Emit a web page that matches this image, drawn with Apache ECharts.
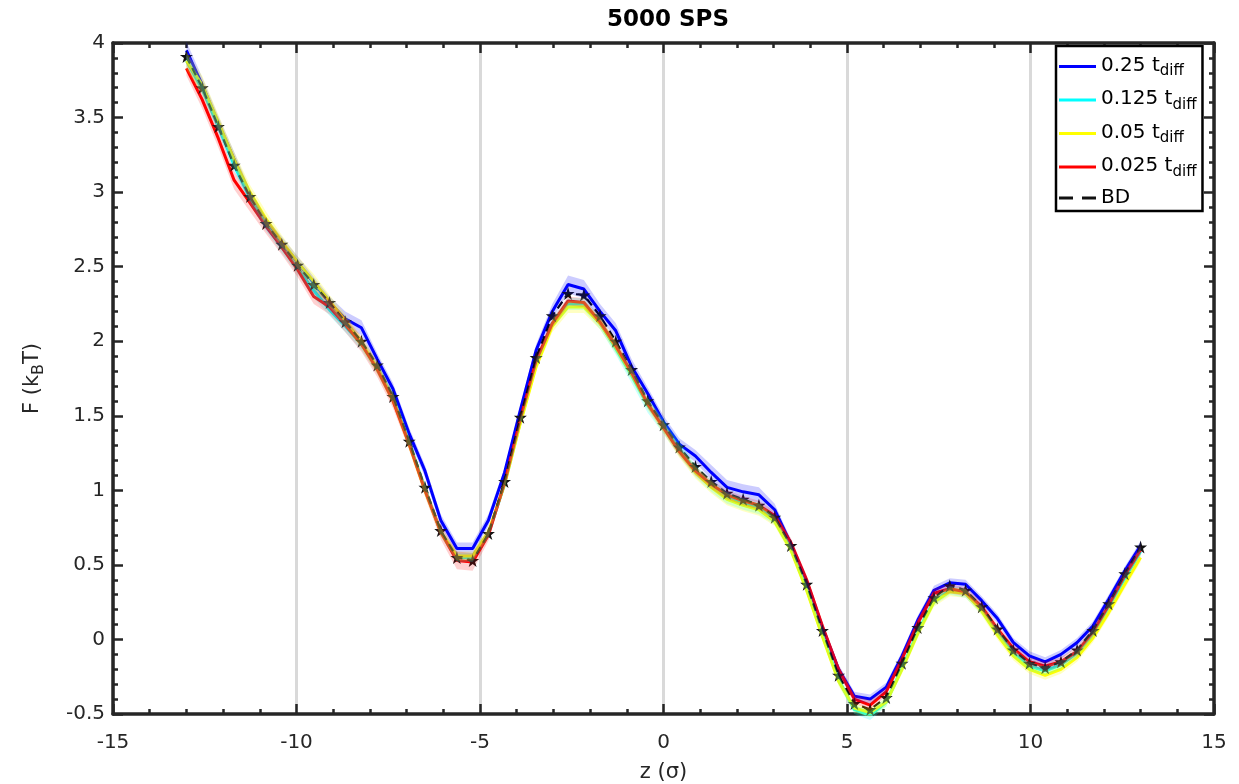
<!DOCTYPE html>
<html>
<head>
<meta charset="utf-8">
<script src="https://cdn.jsdelivr.net/npm/echarts@6/dist/echarts.min.js"></script>
<style>
  html, body { margin: 0; padding: 0; background: #fff; }
  #chart { width: 1239px; height: 784px; }
</style>
</head>
<body>
<div id="chart"></div>
<script>
// Reaction coordinate z (units of sigma)
const zValues = [-13.00,-12.57,-12.13,-11.70,-11.27,-10.83,-10.40,-9.97,-9.53,-9.10,
  -8.67,-8.23,-7.80,-7.37,-6.93,-6.50,-6.07,-5.63,-5.20,-4.77,
  -4.33,-3.90,-3.47,-3.03,-2.60,-2.17,-1.73,-1.30,-0.87,-0.43,
  0.00,0.43,0.87,1.30,1.73,2.17,2.60,3.03,3.47,3.90,
  4.33,4.77,5.20,5.63,6.07,6.50,6.93,7.37,7.80,8.23,
  8.67,9.10,9.53,9.97,10.40,10.83,11.27,11.70,12.13,12.57,13.00];

// Free energy profiles F (kBT) for each time step
const f025 = [3.95,3.72,3.46,3.22,2.98,2.79,2.66,2.53,2.39,2.26,
  2.15,2.09,1.88,1.68,1.38,1.13,0.80,0.61,0.61,0.80,
  1.12,1.54,1.94,2.20,2.38,2.35,2.20,2.07,1.83,1.65,
  1.46,1.31,1.23,1.12,1.02,0.99,0.97,0.87,0.64,0.39,
  0.08,-0.20,-0.38,-0.40,-0.32,-0.11,0.13,0.33,0.38,0.37,
  0.26,0.14,-0.02,-0.11,-0.15,-0.10,-0.02,0.09,0.27,0.46,0.63];

const f0125 = [3.88,3.69,3.44,3.18,2.96,2.78,2.63,2.49,2.34,2.21,
  2.10,1.98,1.82,1.62,1.32,1.01,0.72,0.55,0.55,0.71,
  1.04,1.46,1.85,2.12,2.25,2.25,2.12,1.95,1.77,1.57,
  1.43,1.28,1.13,1.03,0.95,0.91,0.88,0.80,0.61,0.34,
  0.03,-0.27,-0.47,-0.51,-0.42,-0.19,0.05,0.26,0.33,0.31,
  0.20,0.05,-0.09,-0.18,-0.21,-0.17,-0.09,0.04,0.22,0.41,0.59];

const f005 = [3.88,3.72,3.47,3.22,3.00,2.82,2.67,2.53,2.40,2.27,
  2.14,1.99,1.82,1.61,1.31,1.00,0.72,0.56,0.56,0.72,
  1.04,1.45,1.83,2.10,2.23,2.23,2.12,1.96,1.78,1.58,
  1.42,1.26,1.12,1.02,0.94,0.90,0.87,0.79,0.60,0.33,
  0.02,-0.28,-0.46,-0.49,-0.42,-0.20,0.04,0.25,0.32,0.31,
  0.19,0.03,-0.11,-0.20,-0.24,-0.20,-0.12,0.01,0.18,0.37,0.55];

const f0025 = [3.83,3.62,3.36,3.08,2.93,2.77,2.63,2.48,2.30,2.23,
  2.11,1.98,1.81,1.60,1.31,1.00,0.72,0.53,0.52,0.70,
  1.05,1.48,1.87,2.12,2.27,2.26,2.13,1.97,1.79,1.58,
  1.42,1.26,1.13,1.04,0.97,0.93,0.90,0.83,0.65,0.40,
  0.09,-0.20,-0.40,-0.44,-0.35,-0.13,0.11,0.31,0.34,0.32,
  0.22,0.07,-0.06,-0.15,-0.18,-0.15,-0.08,0.05,0.23,0.43,0.60];

const fBD = [3.91,3.70,3.44,3.18,2.97,2.79,2.65,2.51,2.38,2.26,
  2.13,2.00,1.84,1.63,1.33,1.02,0.73,0.55,0.53,0.71,
  1.06,1.49,1.89,2.17,2.32,2.31,2.17,2.00,1.81,1.60,
  1.44,1.29,1.16,1.06,0.98,0.94,0.90,0.82,0.63,0.37,
  0.06,-0.24,-0.43,-0.47,-0.39,-0.16,0.08,0.28,0.36,0.33,
  0.22,0.07,-0.07,-0.16,-0.19,-0.15,-0.07,0.06,0.24,0.44,0.62];

// Statistical uncertainty (half width of shaded band)
const e025 = [0.06,0.05,0.05,0.05,0.04,0.04,0.04,0.04,0.04,0.04,
  0.05,0.05,0.04,0.04,0.04,0.04,0.04,0.04,0.04,0.04,
  0.03,0.03,0.04,0.05,0.06,0.06,0.05,0.05,0.05,0.04,
  0.04,0.04,0.04,0.05,0.05,0.05,0.05,0.04,0.03,0.03,
  0.03,0.03,0.03,0.03,0.03,0.03,0.03,0.03,0.03,0.03,
  0.03,0.03,0.03,0.03,0.03,0.03,0.03,0.03,0.03,0.03,0.03];
const e0125 = [0.04,0.04,0.04,0.04,0.04,0.04,0.04,0.04,0.05,0.04,
  0.04,0.04,0.04,0.04,0.04,0.04,0.03,0.03,0.03,0.03,
  0.03,0.03,0.03,0.03,0.04,0.04,0.04,0.04,0.05,0.05,
  0.05,0.05,0.04,0.04,0.04,0.04,0.04,0.03,0.03,0.03,
  0.03,0.03,0.03,0.03,0.03,0.03,0.03,0.03,0.03,0.03,
  0.03,0.03,0.03,0.03,0.03,0.03,0.03,0.03,0.03,0.03,0.03];
const e005 = [0.06,0.06,0.05,0.05,0.05,0.05,0.04,0.04,0.05,0.04,
  0.04,0.04,0.04,0.04,0.04,0.04,0.03,0.03,0.03,0.03,
  0.03,0.03,0.03,0.04,0.04,0.04,0.04,0.04,0.04,0.04,
  0.04,0.04,0.04,0.04,0.04,0.04,0.04,0.03,0.03,0.03,
  0.03,0.03,0.03,0.03,0.03,0.03,0.03,0.03,0.03,0.03,
  0.03,0.03,0.03,0.03,0.03,0.03,0.03,0.03,0.03,0.03,0.03];
const e0025 = [0.05,0.06,0.06,0.06,0.06,0.05,0.05,0.05,0.05,0.05,
  0.05,0.05,0.05,0.05,0.04,0.04,0.05,0.06,0.06,0.04,
  0.03,0.03,0.03,0.03,0.03,0.03,0.03,0.03,0.03,0.03,
  0.03,0.03,0.03,0.03,0.03,0.03,0.03,0.03,0.03,0.03,
  0.03,0.03,0.03,0.03,0.03,0.03,0.03,0.03,0.03,0.03,
  0.03,0.03,0.03,0.03,0.03,0.03,0.03,0.03,0.03,0.03,0.03];

const xTicks = { min: -15, max: 15, interval: 5 };
const yTicks = { min: -0.5, max: 4, interval: 0.5 };

const profiles = [
  { name: '0.25',  label: '0.25 t',  values: f025,  err: e025,  color: '#0000ff', band: 'rgba(0,0,255,0.2)' },
  { name: '0.125', label: '0.125 t', values: f0125, err: e0125, color: '#00ffff', band: 'rgba(0,255,255,0.22)' },
  { name: '0.05',  label: '0.05 t',  values: f005,  err: e005,  color: '#ffff00', band: 'rgba(255,255,0,0.24)' },
  { name: '0.025', label: '0.025 t', values: f0025, err: e0025, color: '#ff0000', band: 'rgba(255,0,0,0.18)' }
];

const FONT = 'DejaVu Sans';
const AXIS_COLOR = '#262626';
const STAR = 'path://M50,0 L61,35 L98,35 L68,57 L79,91 L50,70 L21,91 L32,57 L2,35 L39,35 Z';

const pairs = (vals) => zValues.map((z, i) => [z, vals[i]]);

const series = [];

// solid profile lines
profiles.forEach(p => {
  series.push({
    name: p.name, type: 'line', data: pairs(p.values),
    symbol: 'none', z: 2,
    color: p.color,
    lineStyle: { color: p.color, width: 3 },
    emphasis: { disabled: true }
  });
});

// reference Brownian dynamics profile
series.push({
  name: 'BD', type: 'line', data: pairs(fBD),
  symbol: STAR, symbolSize: 13, z: 3,
  color: '#000',
  itemStyle: { color: '#111' },
  lineStyle: { color: '#000', width: 2.2, type: [8, 5] },
  emphasis: { disabled: true }
});

// translucent uncertainty bands, one closed polygon per profile
profiles.forEach(p => {
  series.push({
    name: 'band' + p.name, type: 'custom', z: 4, silent: true,
    data: zValues.map((z, i) => [z, p.values[i] - p.err[i], p.values[i] + p.err[i]]),
    encode: { x: 0, y: [1, 2] },
    renderItem: (params, api) => {
      if (params.dataIndex !== 0) return null;
      const upper = zValues.map((z, i) => api.coord([z, p.values[i] + p.err[i]]));
      const lower = zValues.map((z, i) => api.coord([z, p.values[i] - p.err[i]])).reverse();
      return {
        type: 'polygon',
        shape: { points: upper.concat(lower) },
        style: { fill: p.band, stroke: null }
      };
    }
  });
});

const labelMap = {};
profiles.forEach(p => { labelMap[p.name] = '{m|' + p.label + '}{s|diff}'; });
labelMap['BD'] = '{b|BD}';

const grid = { left: 113, right: 25, top: 43, bottom: 70, containLabel: false, outerBoundsMode: 'none' };

const tickCommon = {
  axisLine: { show: true, onZero: false, lineStyle: { color: AXIS_COLOR, width: 3.5 } },
  axisTick: { show: true, inside: true, length: 10, lineStyle: { color: AXIS_COLOR, width: 2.5 } },
  minorTick: { show: true, splitNumber: 5, length: 5, lineStyle: { color: AXIS_COLOR, width: 2.5 } }
};

const option = {
  animation: false,
  backgroundColor: '#fff',
  title: {
    text: '5000 SPS',
    left: 663, top: 4, textAlign: 'center',
    textStyle: { fontFamily: FONT, fontWeight: 'bold', fontSize: 23, color: '#000' }
  },
  legend: {
    orient: 'vertical',
    left: 1056, top: 46,
    data: [
      { name: '0.25', icon: 'rect' },
      { name: '0.125', icon: 'rect' },
      { name: '0.05', icon: 'rect' },
      { name: '0.025', icon: 'rect' },
      { name: 'BD', icon: 'path://M0,0H14V3H0Z M23,0H37V3H23Z' }
    ],
    itemWidth: 37, itemHeight: 3, itemGap: 8.5,
    padding: [8, 6, 3, 3],
    borderColor: '#000', borderWidth: 2.5,
    backgroundColor: '#fff',
    selectedMode: false,
    z: 10,
    formatter: name => labelMap[name],
    textStyle: {
      fontFamily: FONT, color: '#000',
      rich: {
        m: { fontFamily: FONT, fontSize: 20, lineHeight: 22, verticalAlign: 'top', color: '#000' },
        s: { fontFamily: FONT, fontSize: 15, lineHeight: 17, padding: [10, 0, 0, 0], color: '#000' },
        b: { fontFamily: FONT, fontSize: 20, lineHeight: 22, color: '#000' }
      }
    }
  },
  grid: grid,
  xAxis: [
    Object.assign({
      type: 'value', position: 'bottom',
      min: xTicks.min, max: xTicks.max, interval: xTicks.interval,
      name: 'z (σ)', nameLocation: 'middle', nameGap: 48,
      nameTextStyle: { fontFamily: FONT, fontSize: 21, color: '#262626' },
      axisLabel: { fontFamily: FONT, fontSize: 20, color: '#262626', margin: 19 },
      splitLine: { show: true, lineStyle: { color: '#d9d9d9', width: 3 } }
    }, tickCommon),
    Object.assign({
      type: 'value', position: 'top',
      min: xTicks.min, max: xTicks.max, interval: xTicks.interval,
      axisLabel: { show: false }, splitLine: { show: false }
    }, tickCommon)
  ],
  yAxis: [
    Object.assign({
      type: 'value', position: 'left',
      min: yTicks.min, max: yTicks.max, interval: yTicks.interval,
      name: 'F (k{s|B}T)', nameLocation: 'middle', nameGap: 66, nameRotate: 90,
      nameTextStyle: {
        fontFamily: FONT, fontSize: 21, color: '#262626',
        rich: { s: { fontFamily: FONT, fontSize: 16, color: '#262626', padding: [12, 0, 0, 0] } }
      },
      axisLabel: { fontFamily: FONT, fontSize: 20, color: '#262626', margin: 8 },
      splitLine: { show: false }
    }, tickCommon),
    Object.assign({
      type: 'value', position: 'right',
      min: yTicks.min, max: yTicks.max, interval: yTicks.interval,
      axisLabel: { show: false }, splitLine: { show: false }
    }, tickCommon)
  ],
  series: series
};

const chart = echarts.init(document.getElementById('chart'));
chart.setOption(option);
</script>
</body>
</html>
